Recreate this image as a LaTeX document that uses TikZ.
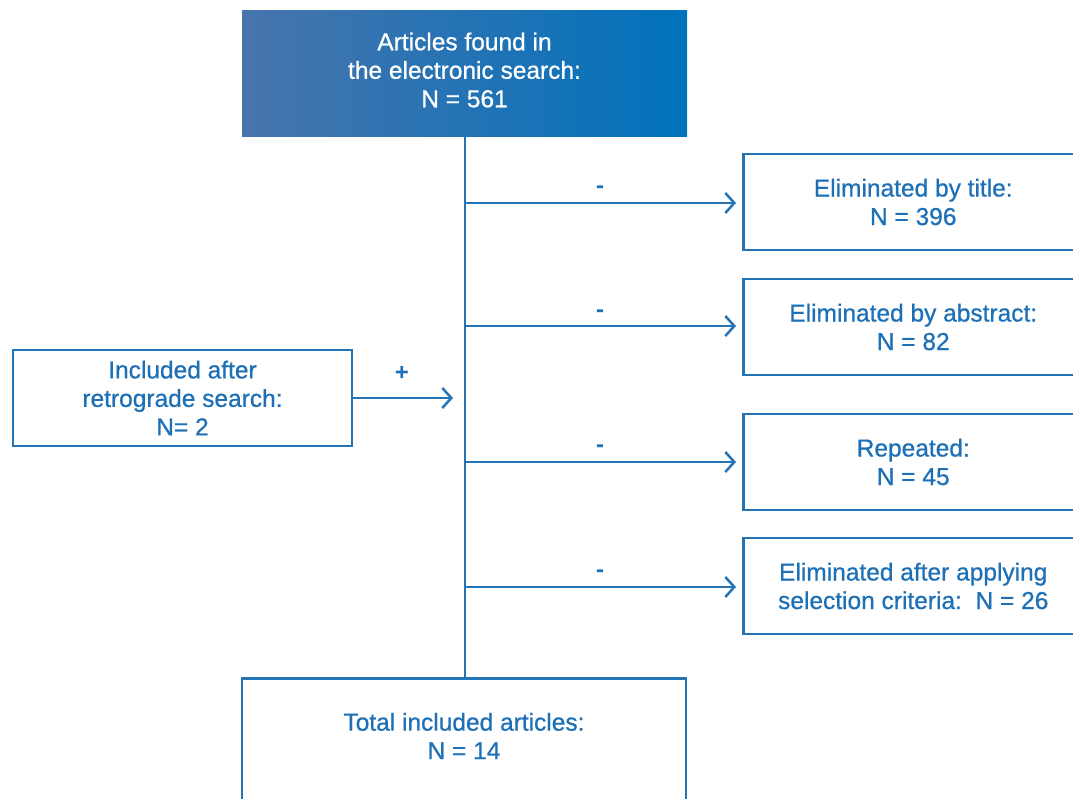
\documentclass[tikz,border=0pt]{standalone}
\usepackage{fontspec}
\setmainfont{Liberation Sans}
\newfontfamily\medfont[FakeBold=0.7]{Liberation Sans}
\usetikzlibrary{arrows.meta}
\definecolor{fblue}{RGB}{36,116,184}
\definecolor{tblue}{RGB}{30,112,182}
\definecolor{gleft}{RGB}{72,116,172}
\definecolor{gright}{RGB}{0,114,188}
\tikzset{
  x=1pt, y=-1pt,
  txt/.style={align=center, inner sep=0pt, font=\medfont\fontsize{24.5}{28.5}\selectfont},
  boxstyle/.style={draw=fblue, line width=2.5pt, rectangle, txt, text=tblue},
  topstyle/.style={rectangle, shading=axis, left color=gleft, right color=gright, shading angle=90,
    inner sep=0pt, minimum width=445pt, minimum height=126pt},
  conn/.style={draw=fblue, line width=2.5pt},
  arr/.style={conn, -{Straight Barb[length=9pt,width=20pt,line width=2.5pt]}},
  sign/.style={text=tblue, font=\fontsize{24}{28}\selectfont\bfseries, inner sep=0pt}
}
\begin{document}
\begin{tikzpicture}
\useasboundingbox (0,0) rectangle (1073,798);
\fill[white] (0,0) rectangle (1073,798);
% top box
\node[topstyle] (top) at (464.5,73) {};
\node[txt, text=white] (toptext) at (464.5,70) {Articles found in\\the electronic search:\\N = 561};
% right boxes
\node[boxstyle, minimum width=340pt, minimum height=96pt, anchor=west] (b1) at (742,202)
  {Eliminated by title:\\N = 396};
\node[boxstyle, minimum width=340pt, minimum height=96pt, anchor=west] (b2) at (742,327)
  {Eliminated by abstract:\\N = 82};
\node[boxstyle, minimum width=340pt, minimum height=96pt, anchor=west] (b3) at (742,462)
  {Repeated:\\N = 45};
\node[boxstyle, minimum width=340pt, minimum height=96pt, anchor=west] (b4) at (742,586)
  {Eliminated after applying\\selection criteria:\ \ N = 26};
% left box
\node[boxstyle, minimum width=339pt, minimum height=96pt] (left) at (182.5,398)
  {Included after\\retrograde search:\\N= 2};
% bottom box
\node[boxstyle, minimum width=444pt, minimum height=150pt, anchor=north] (bottom) at (464,677)
  {};
\node[txt, text=tblue] (btext) at (464,736)
  {Total included articles:\\N = 14};
% trunk
\draw[conn] (top.south -| 465,0) -- (bottom.north -| 465,0);
% junctions
\coordinate (j1) at (465,203);
\coordinate (j2) at (465,326);
\coordinate (j3) at (465,462);
\coordinate (j4) at (465,587);
\coordinate (jl) at (465,398);
\draw[arr, shorten >=6pt] (j1) -- (j1 -| b1.west);
\draw[arr, shorten >=6pt] (j2) -- (j2 -| b2.west);
\draw[arr, shorten >=6pt] (j3) -- (j3 -| b3.west);
\draw[arr, shorten >=6pt] (j4) -- (j4 -| b4.west);
\draw[arr, shorten >=12pt] (left.east) -- (jl);
% signs
\node[sign] (s1) at (600,190) {-};
\node[sign] (s2) at (600,314) {-};
\node[sign] (s3) at (600,449) {-};
\node[sign] (s4) at (600,574) {-};
\node[sign] (sp) at (402,373) {+};
\end{tikzpicture}
\end{document}
